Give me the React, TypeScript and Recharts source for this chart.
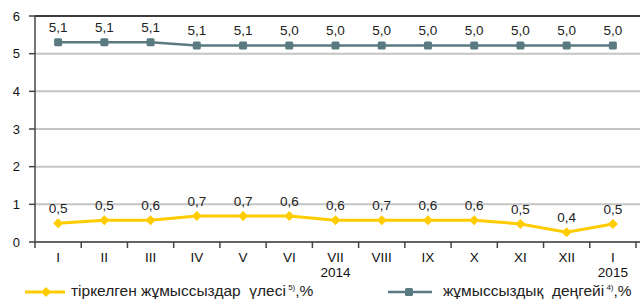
import React from 'react';
import { LineChart, Line, XAxis, YAxis, CartesianGrid, Legend, LabelList, ReferenceLine } from 'recharts';

const months = ['I', 'II', 'III', 'IV', 'V', 'VI', 'VII', 'VIII', 'IX', 'X', 'XI', 'XII', 'I'];
const years = ['', '', '', '', '', '', '2014', '', '', '', '', '', '2015'];

// plotted positions, printed labels kept separately
const shareValues = [0.5, 0.58, 0.58, 0.69, 0.69, 0.69, 0.58, 0.58, 0.58, 0.58, 0.48, 0.26, 0.48];
const shareLabels = ['0,5', '0,5', '0,6', '0,7', '0,7', '0,6', '0,6', '0,7', '0,6', '0,6', '0,5', '0,4', '0,5'];
const rateValues = [5.3, 5.3, 5.3, 5.22, 5.22, 5.22, 5.22, 5.22, 5.22, 5.22, 5.22, 5.22, 5.22];
const rateLabels = ['5,1', '5,1', '5,1', '5,1', '5,1', '5,0', '5,0', '5,0', '5,0', '5,0', '5,0', '5,0', '5,0'];
const yTicks = [0, 1, 2, 3, 4, 5, 6];

const YELLOW = '#FFCC00';
const SLATE = '#587A80';
const FONT = '"Liberation Sans", Arial, sans-serif';

const data = months.map((m, i) => ({
  m,
  yr: years[i],
  share: shareValues[i],
  shareLbl: shareLabels[i],
  rate: rateValues[i],
  rateLbl: rateLabels[i],
}));

const PLOT_LEFT = 35;
const PLOT_RIGHT = 636;
const band = (PLOT_RIGHT - PLOT_LEFT) / months.length;

const XTick = (props: any) => {
  const { x, y, index } = props;
  const row = data[index];
  return (
    <g>
      <line x1={x - band / 2} x2={x - band / 2} y1={y} y2={y + 6} stroke="#444" strokeWidth={1.5} />
      {index === data.length - 1 && (
        <line x1={x + band / 2} x2={x + band / 2} y1={y} y2={y + 6} stroke="#444" strokeWidth={1.5} />
      )}
      <text x={x} y={y + 20} textAnchor="middle" fontSize={13.5} fill="#111" fontFamily={FONT}>{row.m}</text>
      {row.yr && (
        <text x={x} y={y + 35} textAnchor="middle" fontSize={13.5} fill="#111" fontFamily={FONT}>{row.yr}</text>
      )}
    </g>
  );
};

const Diamond = (props: any) => {
  const { cx, cy } = props;
  if (cx == null || cy == null) return null;
  return <path d={`M${cx} ${cy - 5}L${cx + 5} ${cy}L${cx} ${cy + 5}L${cx - 5} ${cy}Z`} fill={YELLOW} />;
};

const Square = (props: any) => {
  const { cx, cy } = props;
  if (cx == null || cy == null) return null;
  return <rect x={cx - 4} y={cy - 4} width={8} height={8} rx={1.5} fill={SLATE} />;
};

const LegendBox = () => (
  <div style={{ position: 'relative', width: 641, height: 24, fontFamily: FONT, fontSize: 15.5, color: '#222' }}>
    <svg width={641} height={24} style={{ position: 'absolute', left: 0, top: 0 }}>
      <line x1={25} x2={65} y1={14} y2={14} stroke={YELLOW} strokeWidth={3} />
      <path d="M46 9L51 14L46 19L41 14Z" fill={YELLOW} />
      <line x1={388} x2={432} y1={14} y2={14} stroke={SLATE} strokeWidth={2.5} />
      <rect x={405} y={10} width={8} height={8} rx={1.5} fill={SLATE} />
    </svg>
    <span style={{ position: 'absolute', left: 71, top: 4, whiteSpace: 'pre' }}>
      тіркелген жұмыссыздар  үлесі<sup style={{ fontSize: 8 }}> 5)</sup>,%
    </span>
    <span style={{ position: 'absolute', left: 443, top: 4, whiteSpace: 'pre' }}>
      жұмыссыздық  деңгейі<sup style={{ fontSize: 8 }}> 4)</sup>,%
    </span>
  </div>
);

const App: React.FC = () => {
  return (
    <div style={{ position: 'absolute', left: 0, top: 0, width: 641, height: 302, background: '#fff', fontFamily: FONT }}>
      <LineChart width={641} height={302} data={data} margin={{ top: 16, right: 1, bottom: 0, left: 0 }}>
        <CartesianGrid vertical={false} stroke="#c4c4c4" strokeWidth={2} />
        <ReferenceLine y={6} stroke="#111" strokeWidth={1.5} />
        <XAxis
          dataKey="m"
          interval={0}
          height={36}
          tickSize={0}
          tickMargin={0}
          padding={{ left: band / 2, right: band / 2 + 4 }}
          tick={<XTick />}
          axisLine={{ stroke: '#444', strokeWidth: 1.5 }}
          tickLine={false}
        />
        <YAxis
          width={35}
          domain={[0, 6]}
          ticks={yTicks}
          interval={0}
          tickSize={6}
          tickMargin={9}
          tick={{ fontSize: 13, fill: '#111', fontFamily: FONT }}
          tickLine={{ stroke: '#444', strokeWidth: 1.5 }}
          axisLine={{ stroke: '#444', strokeWidth: 1.5 }}
        />
        <Legend verticalAlign="bottom" height={24} wrapperStyle={{ left: 0 }} content={<LegendBox />} />
        <Line
          type="linear"
          dataKey="share"
          stroke={YELLOW}
          strokeWidth={3}
          dot={<Diamond />}
          activeDot={false}
          isAnimationActive={false}
        >
          <LabelList dataKey="shareLbl" position="top" offset={10} style={{ fontSize: 13.5, fill: '#222', fontFamily: FONT }} />
        </Line>
        <Line
          type="linear"
          dataKey="rate"
          stroke={SLATE}
          strokeWidth={2.5}
          dot={<Square />}
          activeDot={false}
          isAnimationActive={false}
        >
          <LabelList dataKey="rateLbl" position="top" offset={10} style={{ fontSize: 13.5, fill: '#222', fontFamily: FONT }} />
        </Line>
      </LineChart>
    </div>
  );
};

export default App;
